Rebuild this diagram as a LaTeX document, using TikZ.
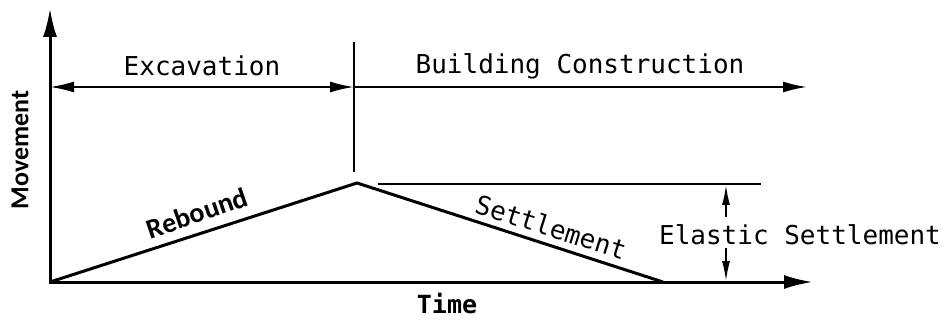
\documentclass[tikz,border=0pt]{standalone}
\usepackage{fontspec}
\usetikzlibrary{arrows.meta}
\newfontfamily\monof{DejaVu Sans Mono}
\newfontfamily\labf{Carlito}
\begin{document}
\begin{tikzpicture}[x=1pt,y=-1pt,
  axis/.style={line width=3pt,line cap=butt},
  curve/.style={line width=3pt,line join=miter},
  span/.style={line width=2pt},
  thin/.style={line width=1.6pt},
  txt/.style={font=\monof\fontsize{26}{26}\selectfont,inner sep=0pt},
  bigtip/.style={-{Latex[length=29pt,width=14pt]}},
  midtip/.style={-{Latex[length=24pt,width=11pt]}},
  smalltip/.style={-{Latex[length=20pt,width=8pt]}}]
\useasboundingbox (0,0) rectangle (952,320);
% key points
\coordinate (O) at (50,282);
\coordinate (Ytop) at (50,8);
\coordinate (Xend) at (813,282);
\coordinate (P) at (357,183);
\coordinate (S) at (663,282);
\coordinate (Dtop) at (354,42);
\coordinate (Dbot) at (354,172);
\coordinate (A1) at (50,87);
\coordinate (A2) at (354,87);
\coordinate (A3) at (807,87);
\coordinate (H1) at (378,184);
\coordinate (H2) at (761,184);
\coordinate (E1) at (726,185);
\coordinate (E1b) at (726,217);
\coordinate (E2b) at (726,248);
\coordinate (E2) at (726,281);
% axes
\draw[axis,bigtip] ([yshift=1.5pt]O) -- (Ytop);
\draw[axis,bigtip] ([xshift=-1.5pt]O) -- (Xend);
% phase arrows
\draw[span,{Latex[length=24pt,width=11pt]}-{Latex[length=24pt,width=11pt]}] (A1) -- (A2);
\draw[span,midtip] (A2) -- (A3);
\draw[thin] (Dtop) -- (Dbot);
% movement curve
\draw[curve] (O) -- (P) -- (S);
% elastic settlement dimension
\draw[thin] (H1) -- (H2);
\draw[thin,smalltip] (E1b) -- (E1);
\draw[thin,smalltip] (E2b) -- (E2);
% labels
\node[txt] (exc) at (202,66) {Excavation};
\node[txt] (bld) at (580,66) {Building Construction};
\node[txt] (ela) at (800,235) {Elastic Settlement};
\node[txt,rotate=-17.5] (set) at (551,227) {Settlement};
\node[font=\monof\bfseries\fontsize{25}{25}\selectfont,inner sep=0pt] (time) at (447,304) {Time};
\node[font=\labf\bfseries\fontsize{26}{26}\selectfont,inner sep=0pt,rotate=90] (mov) at (20,150) {Movement};
\node[font=\labf\bfseries\fontsize{28}{28}\selectfont,inner sep=0pt,rotate=19] (reb) at (197,213) {Rebound};
\end{tikzpicture}
\end{document}
